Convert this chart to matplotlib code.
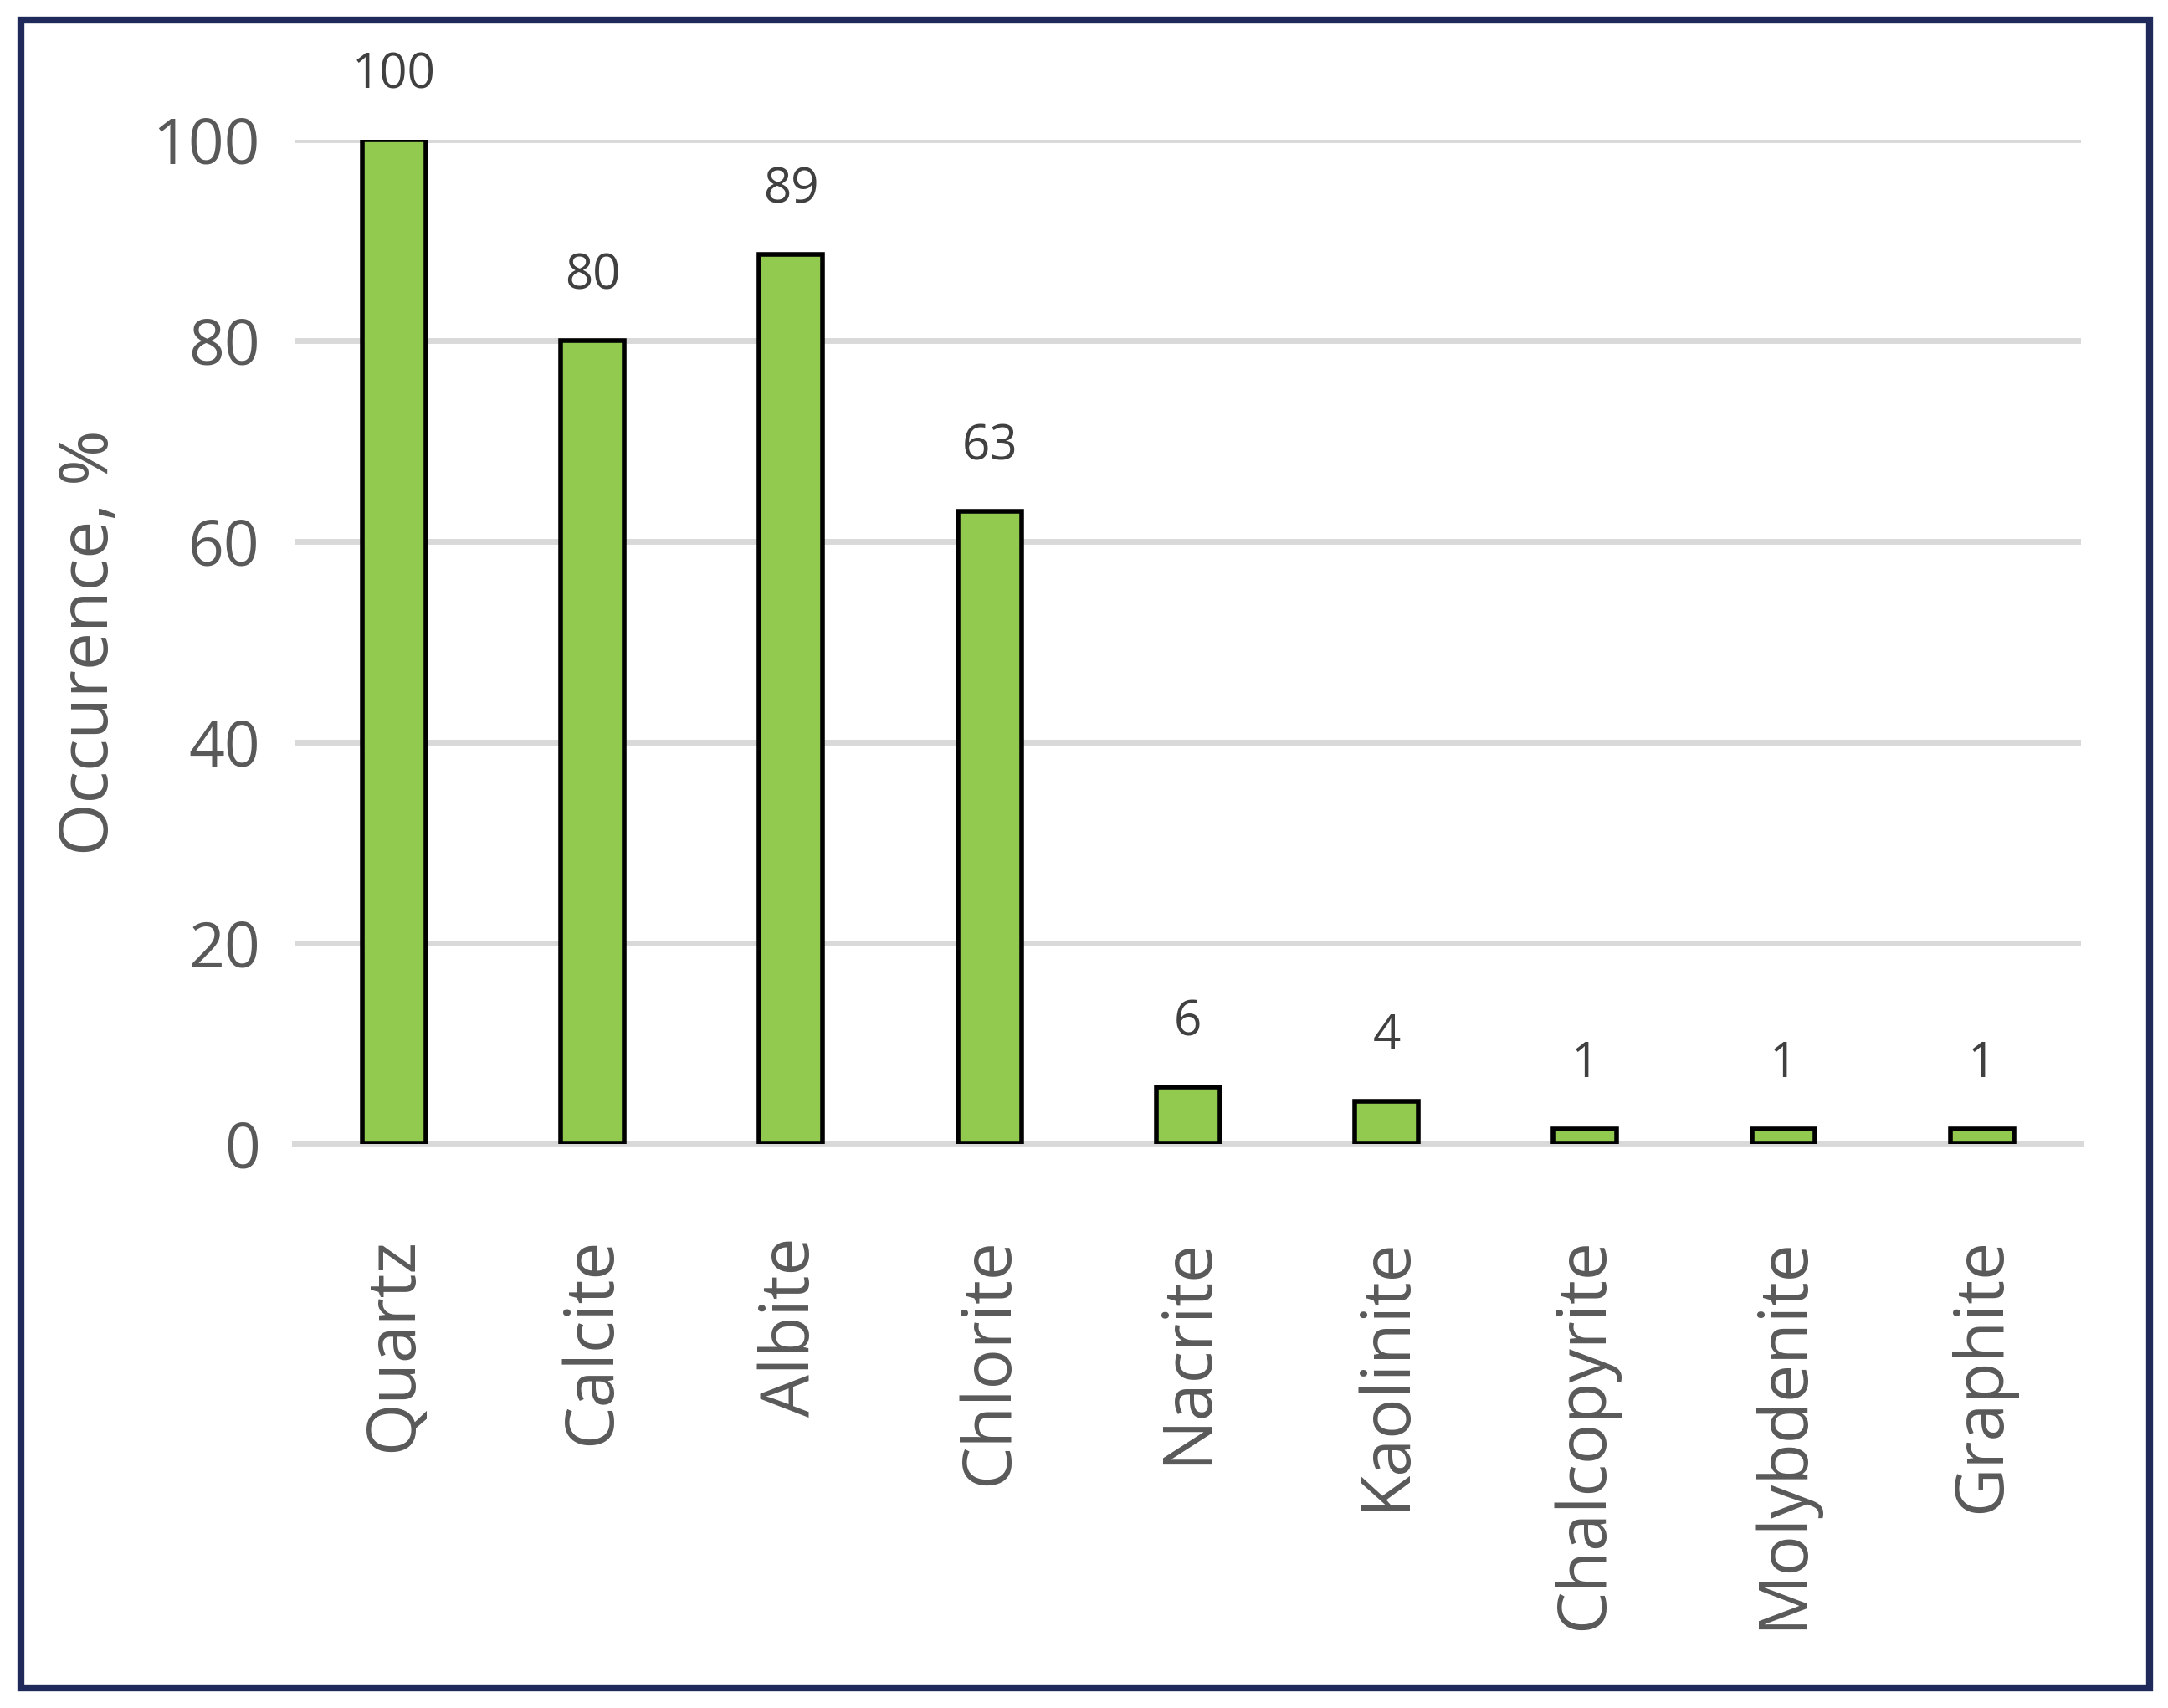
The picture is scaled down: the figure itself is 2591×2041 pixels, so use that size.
import matplotlib
matplotlib.use("Agg")
import matplotlib.pyplot as plt
from matplotlib.patches import Rectangle

minerals = ["Quartz", "Calcite", "Albite", "Chlorite", "Nacrite", "Kaolinite",
            "Chalcopyrite", "Molybdenite", "Graphite"]
heights = [100, 80, 88.6, 63, 5.7, 4.3, 1.5, 1.5, 1.5]
labels = ["100", "80", "89", "63", "6", "4", "1", "1", "1"]

plt.rcParams['font.family'] = ['Open Sans', 'DejaVu Sans']
fig = plt.figure(figsize=(25.91, 20.41), dpi=100)
ax = fig.add_axes([0.136, 0.330, 0.824, 0.588])
x = range(len(minerals))
ax.bar(x, heights, width=0.32, color="#92c94f", edgecolor="black", linewidth=4, zorder=3)
for i, (h, l) in enumerate(zip(heights, labels)):
    ax.text(i, h + 4, l, ha="center", va="bottom", fontsize=42, color="#404040")
ax.set_ylim(0, 100)
ax.set_xlim(-0.5, len(minerals) - 0.5)
ax.set_yticks([0, 20, 40, 60, 80, 100])
ax.yaxis.grid(True, color="#d9d9d9", linewidth=5, zorder=0)
ax.set_axisbelow(True)
for s in ax.spines.values():
    s.set_visible(False)
ax.tick_params(axis="both", length=0, labelsize=54, labelcolor="#595959", pad=30)
ax.set_xticks(list(x))
ax.set_xticklabels(minerals, rotation=90, fontsize=58)
ax.tick_params(axis="x", pad=80)
ax.set_ylabel("Occurence, %", fontsize=58, color="#595959", labelpad=25)
ax.axhline(0, color="#d9d9d9", linewidth=5, zorder=1, clip_on=False)
fig.patches.append(Rectangle((0.0096, 0.012), 0.982, 0.976, transform=fig.transFigure,
                             fill=False, edgecolor="#1f2a5a", linewidth=6))
fig.savefig("out.png", dpi=100, facecolor="white")
